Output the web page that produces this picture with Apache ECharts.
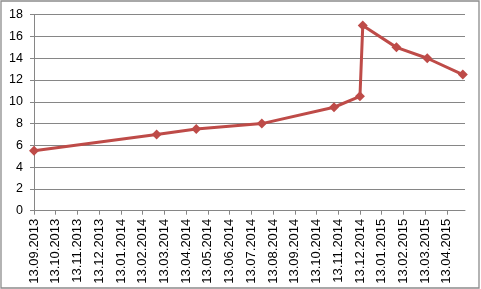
<!DOCTYPE html>
<html>
<head>
<meta charset="utf-8">
<script src="https://cdn.jsdelivr.net/npm/echarts@6/dist/echarts.min.js"></script>
<style>
html,body{margin:0;padding:0;background:#fff;}
#chart{width:481px;height:289px;}
</style>
</head>
<body>
<div id="chart"></div>
<script>
// Data
var pointDates = ['2013-09-13','2014-03-03','2014-04-27','2014-07-28','2014-11-07','2014-12-13','2014-12-17','2015-02-03','2015-03-16','2015-05-05'];
var pointValues = [5.5, 7, 7.5, 8, 9.5, 10.5, 17, 15, 14, 12.5];
var xTickLabels = ['13.09.2013','13.10.2013','13.11.2013','13.12.2013','13.01.2014','13.02.2014','13.03.2014','13.04.2014','13.05.2014','13.06.2014','13.07.2014','13.08.2014','13.09.2014','13.10.2014','13.11.2014','13.12.2014','13.01.2015','13.02.2015','13.03.2015','13.04.2015'];
var yTicks = [0, 2, 4, 6, 8, 10, 12, 14, 16, 18];
var axisEndDate = '2015-05-08';

// Position of a date in months counted from 13.09.2013 (axis unit = one month, 13th to 13th)
function daysIn(y, m) { return new Date(y, m, 0).getDate(); }
function monthPos(s) {
  var p = s.split('-'), y = +p[0], m = +p[1], d = +p[2];
  var base = (y - 2013) * 12 + (m - 9);
  if (d >= 13) return base + (d - 13) / daysIn(y, m);
  var py = m === 1 ? y - 1 : y, pm = m === 1 ? 12 : m - 1;
  var n = daysIn(py, pm);
  return base - 1 + (d - 13 + n) / n;
}
var seriesData = pointDates.map(function (d, i) { return [monthPos(d), pointValues[i]]; });
var tickPositions = xTickLabels.map(function (_, i) { return i; });

var chart = echarts.init(document.getElementById('chart'), null, {renderer: 'canvas'});
chart.setOption({
  animation: false,
  backgroundColor: '#fff',
  graphic: [{
    type: 'rect', silent: true,
    shape: {x: 1, y: 1, width: 478, height: 287},
    style: {fill: 'none', stroke: '#8c8c8c', lineWidth: 1.3}
  }],
  grid: {left: 34, right: 16, top: 14.7, bottom: 78.3, containLabel: false},
  xAxis: {
    type: 'value',
    min: 0,
    max: monthPos(axisEndDate),
    interval: 1,
    splitLine: {show: false},
    axisLine: {show: true, onZero: false, lineStyle: {color: '#868686', width: 1}},
    axisTick: {show: true, length: 4, customValues: tickPositions, lineStyle: {color: '#868686'}},
    axisLabel: {
      customValues: tickPositions,
      rotate: 90,
      margin: 8,
      fontFamily: 'Liberation Sans, Arial, sans-serif',
      fontSize: 13,
      color: '#000',
      formatter: function (v) { return xTickLabels[Math.round(v)] || ''; }
    }
  },
  yAxis: {
    type: 'value',
    min: yTicks[0],
    max: yTicks[yTicks.length - 1],
    interval: 2,
    axisLine: {show: true, lineStyle: {color: '#868686', width: 1}},
    axisTick: {show: true, length: 4, lineStyle: {color: '#868686'}},
    splitLine: {show: true, lineStyle: {color: '#868686', width: 1}},
    axisLabel: {
      margin: 11,
      fontFamily: 'Liberation Sans, Arial, sans-serif',
      fontSize: 12.5,
      color: '#000'
    }
  },
  series: [{
    type: 'line',
    data: seriesData,
    symbol: 'diamond',
    symbolSize: 10,
    lineStyle: {color: '#BE4B48', width: 3},
    itemStyle: {color: '#BE4B48'},
    z: 5
  }]
});
</script>
</body>
</html>
